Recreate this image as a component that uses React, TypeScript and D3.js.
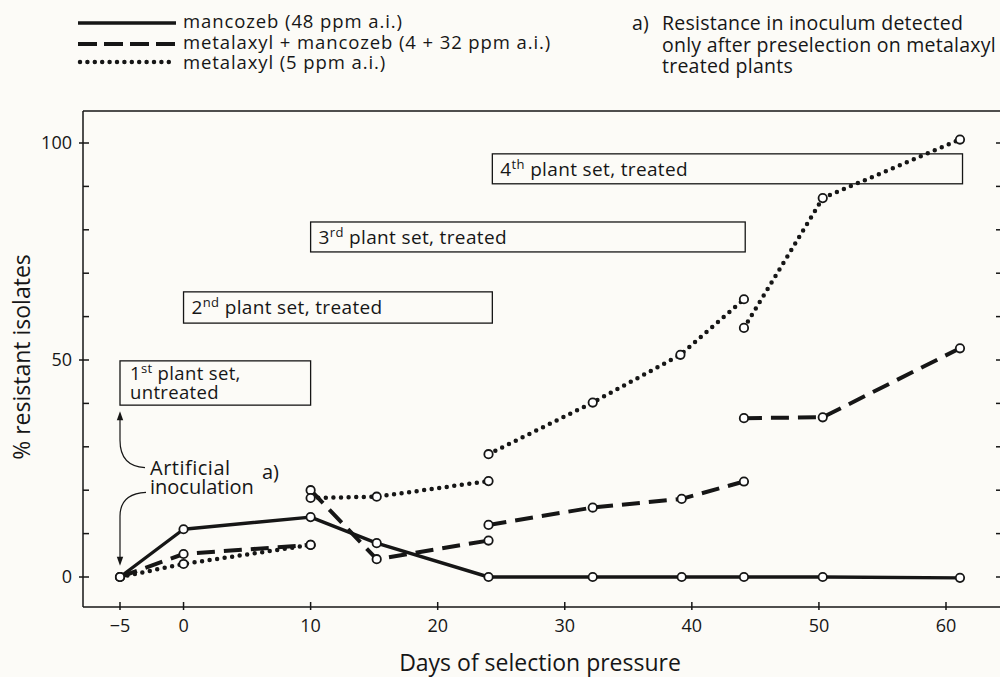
import * as d3 from "d3";

const FONT = "'Open Sans', sans-serif";
const INK = "#161616";

// axis ticks
const xTicks = [-5, 0, 10, 20, 30, 40, 50, 60];
const yLabelTicks = [0, 50, 100];
const yMinorTicks = [10, 20, 30, 40, 60, 70, 80, 90];
const yRightTicks = [0, 10, 20, 30, 40, 50, 60, 70, 80, 90, 100];

// series, one sub-array per plant set (lines break where a new set starts)
const seriesNames = [
  "mancozeb (48 ppm a.i.)",
  "metalaxyl + mancozeb (4 + 32 ppm a.i.)",
  "metalaxyl (5 ppm a.i.)",
];
const mancozebDays = [[-5, 0, 10, 15.2, 24, 32.2, 39.2, 44.1, 50.3, 61.1]];
const mancozebValues = [[0, 11, 13.8, 7.8, 0, 0, 0, 0, 0, -0.2]];
const comboDays = [[-5, 0, 10], [10, 15.2, 24], [24, 32.2, 39.2, 44.1], [44.1, 50.3, 61.1]];
const comboValues = [[0, 5.3, 7.4], [20, 4.1, 8.4], [12, 16, 18, 22], [36.6, 36.8, 52.7]];
const metalaxylDays = [[-5, 0, 10], [10, 15.2, 24], [24, 32.2, 39.1, 44.1], [44.1, 50.3, 61.1]];
const metalaxylValues = [[0, 3, 7.4], [18.2, 18.5, 22.1], [28.3, 40.2, 51.2, 64], [57.4, 87.3, 100.8]];

// plant set boxes
const setNumbers = ["1", "2", "3", "4"];
const setSuffixes = ["st", "nd", "rd", "th"];
const setTexts = [" plant set,", " plant set, treated", " plant set, treated", " plant set, treated"];
const setStart = [-5, 0, 10, 24.3];
const setEnd = [10, 24.3, 44.2, 61.3];
const setTop = [49.8, 65.7, 81.8, 97.5];
const setBottom = [39.6, 58.5, 74.9, 90.6];

const noteLines = [
  "Resistance in inoculum detected",
  "only after preselection on metalaxyl",
  "treated plants",
];

const x = d3.scaleLinear().domain([-5, 60]).range([120, 946]);
const y = d3.scaleLinear().domain([0, 100]).range([577, 143]);
const frame = { left: 83, right: 1003, top: 111, bottom: 607 };

const zip = (days: number[][], vals: number[][]) =>
  days.map((seg, i) => seg.map((d, j) => [d, vals[i][j]] as [number, number]));

const series = [
  { segs: zip(mancozebDays, mancozebValues), dash: "", width: 3.4 },
  { segs: zip(comboDays, comboValues), dash: "18 9", width: 4 },
  { segs: zip(metalaxylDays, metalaxylValues), dash: "0 7.6", width: 4.5 },
];

export default function App() {
  const line = d3
    .line<[number, number]>()
    .x((d) => x(d[0]))
    .y((d) => y(d[1]));

  // annotation arrows around "Artificial inoculation"
  const ax = x(-5);
  const up = d3.path();
  up.moveTo(ax, y(37.4));
  up.lineTo(ax, y(31.5));
  up.quadraticCurveTo(ax, y(25.5), ax + 25, y(25.2));
  const down = d3.path();
  down.moveTo(ax + 26, y(19.5));
  down.quadraticCurveTo(ax, y(19.2), ax, y(14));
  down.lineTo(ax, y(3.5));
  const upTip = y(38.2);
  const downTip = y(2.6);

  return (
    <svg
      width={1000}
      height={677}
      style={{ position: "absolute", left: 0, top: 0, background: "#fcfbf7" }}
      fontFamily={FONT}
      fill={INK}
    >
      {/* legend */}
      <g>
        <line x1={78} x2={176} y1={23} y2={23} stroke={INK} strokeWidth={3.4} />
        <line x1={78} x2={176} y1={44} y2={44} stroke={INK} strokeWidth={4} strokeDasharray="19 7" />
        <line x1={80} x2={176} y1={62} y2={62} stroke={INK} strokeWidth={4.5} strokeDasharray="0 7.4" strokeLinecap="round" />
        {seriesNames.map((s, i) => (
          <text key={s} x={183} y={[28, 49, 69][i]} fontSize={18.5} letterSpacing={0.9}>
            {s}
          </text>
        ))}
      </g>

      {/* note a) */}
      <g fontSize={19.5} letterSpacing={0.25}>
        <text x={632} y={30}>a)</text>
        {noteLines.map((t, i) => (
          <text key={t} x={662} y={30 + i * 21.5}>
            {t}
          </text>
        ))}
      </g>

      {/* frame */}
      <g stroke={INK} strokeWidth={1.5} fill="none">
        <line x1={frame.left} x2={frame.right} y1={frame.top} y2={frame.top} />
        <line x1={frame.left} x2={frame.right} y1={frame.bottom} y2={frame.bottom} />
        <line x1={frame.left} x2={frame.left} y1={frame.top} y2={frame.bottom} />
        <line x1={frame.right} x2={frame.right} y1={frame.top} y2={frame.bottom} />
        {xTicks.map((t) => (
          <line key={t} x1={x(t)} x2={x(t)} y1={frame.bottom - 5} y2={frame.bottom + 3} />
        ))}
        {yLabelTicks.map((t) => (
          <line key={t} x1={frame.left - 4} x2={frame.left + 6} y1={y(t)} y2={y(t)} />
        ))}
        {yMinorTicks.map((t) => (
          <line key={t} x1={frame.left} x2={frame.left + 6} y1={y(t)} y2={y(t)} />
        ))}
        {yRightTicks.map((t) => (
          <line key={t} x1={frame.right - 7} x2={frame.right} y1={y(t)} y2={y(t)} />
        ))}
      </g>
      <g fontSize={18}>
        {xTicks.map((t) => (
          <text key={t} x={x(t)} y={632} textAnchor="middle">
            {t < 0 ? `\u2212${-t}` : t}
          </text>
        ))}
        {yLabelTicks.map((t) => (
          <text key={t} x={72} y={y(t)} dy="0.33em" textAnchor="end">
            {t}
          </text>
        ))}
      </g>
      <text x={540} y={671} fontSize={23} textAnchor="middle">
        Days of selection pressure
      </text>
      <text transform={`translate(30,357) rotate(-90)`} fontSize={23} textAnchor="middle">
        % resistant isolates
      </text>

      {/* plant set boxes */}
      <g fontSize={19} letterSpacing={0.35}>
        {setNumbers.map((n, i) => (
          <g key={n}>
            <rect
              x={x(setStart[i])}
              y={y(setTop[i])}
              width={x(setEnd[i]) - x(setStart[i])}
              height={y(setBottom[i]) - y(setTop[i])}
              fill="none"
              stroke={INK}
              strokeWidth={1.3}
            />
            <text
              x={x(setStart[i]) + (i === 0 ? 10 : 8)}
              y={i === 0 ? y(setTop[i]) + 19 : (y(setTop[i]) + y(setBottom[i])) / 2 + 7}
              fontSize={i === 0 ? 18.5 : 19}
            >
              <tspan>{n}</tspan>
              <tspan dy={-7} fontSize={13}>{setSuffixes[i]}</tspan>
              <tspan dy={7}>{setTexts[i]}</tspan>
            </text>
            {i === 0 && (
              <text x={x(setStart[i]) + 10} y={y(setTop[i]) + 38} fontSize={18.5}>
                untreated
              </text>
            )}
          </g>
        ))}
      </g>

      {/* inoculation annotation */}
      <g fontSize={20}>
        <text x={150} y={475} letterSpacing={0.5}>Artificial</text>
        <text x={150} y={494}>inoculation</text>
        <text x={262} y={479}>a)</text>
      </g>
      <g stroke={INK} strokeWidth={1.2} fill="none">
        <path d={up.toString()} />
        <path d={down.toString()} />
      </g>
      <path d={`M${ax},${upTip} l-3.2,9 l6.4,0 Z`} fill={INK} />
      <path d={`M${ax},${downTip} l-3.2,-9 l6.4,0 Z`} fill={INK} />

      {/* series */}
      {series.map((s, si) =>
        s.segs.map((seg, gi) => (
          <path
            key={`${si}-${gi}`}
            d={line(seg) || ""}
            fill="none"
            stroke={INK}
            strokeWidth={s.width}
            strokeDasharray={s.dash || undefined}
            strokeLinecap={s.dash.startsWith("0") ? "round" : "butt"}
            strokeLinejoin="round"
          />
        ))
      )}
      {series.map((s, si) =>
        s.segs.map((seg, gi) =>
          seg.map((p, pi) => (
            <circle
              key={`${si}-${gi}-${pi}`}
              cx={x(p[0])}
              cy={y(p[1])}
              r={4.2}
              fill="#fff"
              stroke={INK}
              strokeWidth={1.8}
            />
          ))
        )
      )}
    </svg>
  );
}
